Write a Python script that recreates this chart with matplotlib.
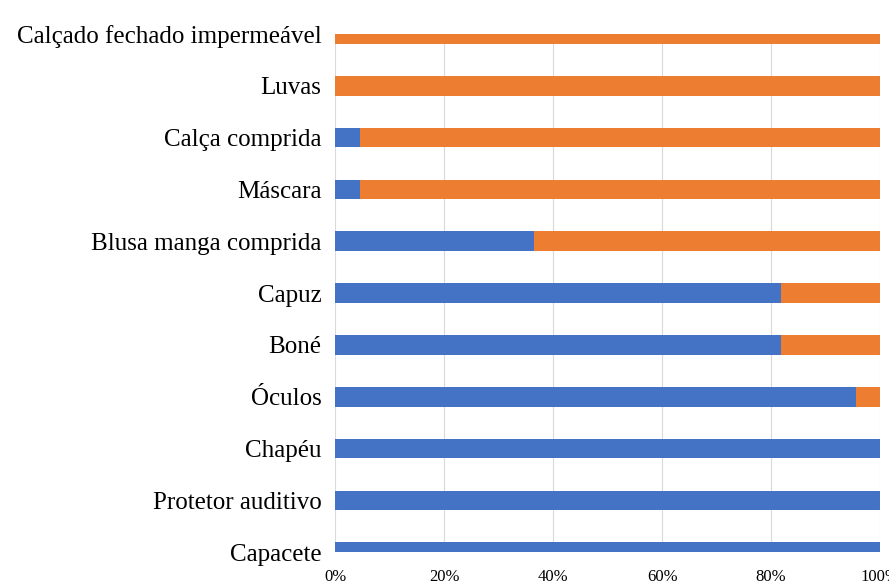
import matplotlib
matplotlib.use('Agg')
import matplotlib.pyplot as plt
import numpy as np

# Categorias (de baixo para cima)
categorias = ['Capacete', 'Protetor auditivo', 'Chapéu', 'Óculos', 'Boné', 'Capuz',
              'Blusa manga comprida', 'Máscara', 'Calça comprida', 'Luvas',
              'Calçado fechado impermeável']

# Porcentagem (serie azul); serie laranja = resto
azul = [100, 100, 100, 95.5, 81.8, 81.8, 36.4, 4.5, 4.5, 0, 0]
laranja = [100 - v for v in azul]

cor_azul = '#4472C4'
cor_laranja = '#ED7D31'

fig = plt.figure(figsize=(8.89, 5.85), dpi=100)
ax = fig.add_axes([0.377, 0.056, 0.613, 0.886])

y = np.arange(len(categorias))
ax.barh(y, azul, height=0.38, color=cor_azul, zorder=3)
ax.barh(y, laranja, left=azul, height=0.38, color=cor_laranja, zorder=3)

ax.set_ylim(0, len(categorias) - 1)
ax.set_xlim(0, 100)
ax.set_yticks(y)
ax.set_yticklabels(categorias, fontsize=18, family='Liberation Serif')
ax.set_xticks([0, 20, 40, 60, 80, 100])
ax.set_xticklabels(['0%', '20%', '40%', '60%', '80%', '100%'], fontsize=12,
                   family='Liberation Serif')
ax.tick_params(axis='both', length=0)
ax.tick_params(axis='x', pad=12)
ax.tick_params(axis='y', pad=10)

for s in ax.spines.values():
    s.set_visible(False)
ax.grid(axis='x', color='#D9D9D9', linewidth=0.8, zorder=0)
ax.set_axisbelow(True)

fig.savefig('out.png', dpi=100)
